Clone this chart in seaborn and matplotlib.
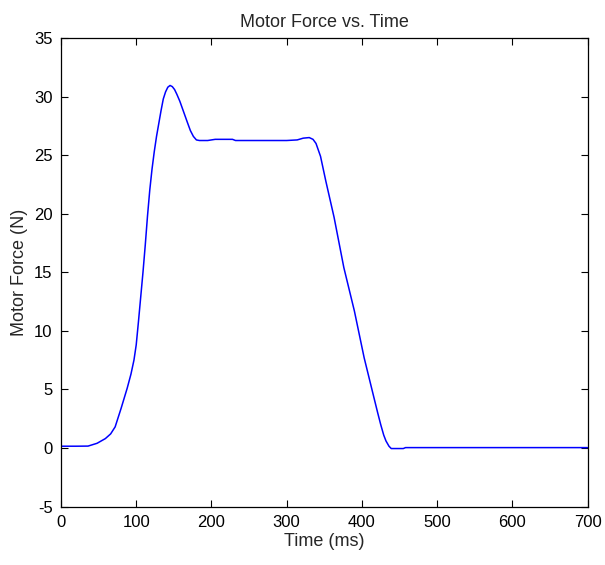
import matplotlib
matplotlib.use('Agg')
import matplotlib.pyplot as plt
import seaborn as sns
import pandas as pd

# Motor force trace
time_ms = [0, 20, 36, 48, 59, 66, 72, 80, 88, 93, 97, 100, 103, 106, 109,
           112, 115, 118, 121, 124, 127, 130, 133, 136, 139, 142, 145, 148,
           151, 154, 158, 163, 168, 172, 176, 180, 184, 195, 205, 228, 232,
           300, 314, 322, 330, 335, 339, 345, 352, 363, 376, 390, 403, 416,
           421, 425, 429, 432, 436, 439, 455, 458, 700]
force_n = [0.15, 0.15, 0.16, 0.4, 0.8, 1.2, 1.8, 3.4, 5.1, 6.3, 7.5, 8.8,
           10.8, 12.9, 15.0, 17.3, 19.8, 22.0, 23.8, 25.3, 26.6, 27.7, 28.8,
           29.8, 30.4, 30.8, 30.95, 30.85, 30.6, 30.2, 29.6, 28.7, 27.8, 27.1,
           26.6, 26.3, 26.25, 26.25, 26.35, 26.35, 26.25, 26.25, 26.3, 26.45,
           26.5, 26.35, 26.0, 24.9, 22.8, 19.7, 15.4, 11.7, 7.7, 4.3, 3.0,
           2.0, 1.1, 0.6, 0.15, -0.05, -0.05, 0.03, 0.03]

x_ticks = [0, 100, 200, 300, 400, 500, 600, 700]
y_ticks = [-5, 0, 5, 10, 15, 20, 25, 30, 35]

sns.set_style('ticks')
plt.rcParams['font.family'] = ['Liberation Sans', 'DejaVu Sans']
plt.rcParams['axes.unicode_minus'] = False

df = pd.DataFrame({'Time (ms)': time_ms, 'Motor Force (N)': force_n})

fig = plt.figure(figsize=(6.05, 5.65), dpi=100)
ax = fig.add_axes([0.1008, 0.1035, 0.8704, 0.8292])
sns.lineplot(data=df, x='Time (ms)', y='Motor Force (N)', ax=ax,
             color='#0000ff', linewidth=1.1, sort=False)

ax.set_xlim(0, 700)
ax.set_ylim(-5, 35)
ax.set_xticks(x_ticks)
ax.set_yticks(y_ticks)
ax.tick_params(direction='in', top=True, right=True, length=5,
               width=0.8, labelsize=12, pad=6, colors='black')
for s in ax.spines.values():
    s.set_visible(True)
    s.set_linewidth(0.9)
    s.set_color('black')

ax.set_xlabel('Time (ms)', fontsize=13, labelpad=2)
ax.set_ylabel('Motor Force (N)', fontsize=13, labelpad=4)
ax.set_title('Motor Force vs. Time', fontsize=13, pad=8)

fig.savefig('out.png', dpi=100)
